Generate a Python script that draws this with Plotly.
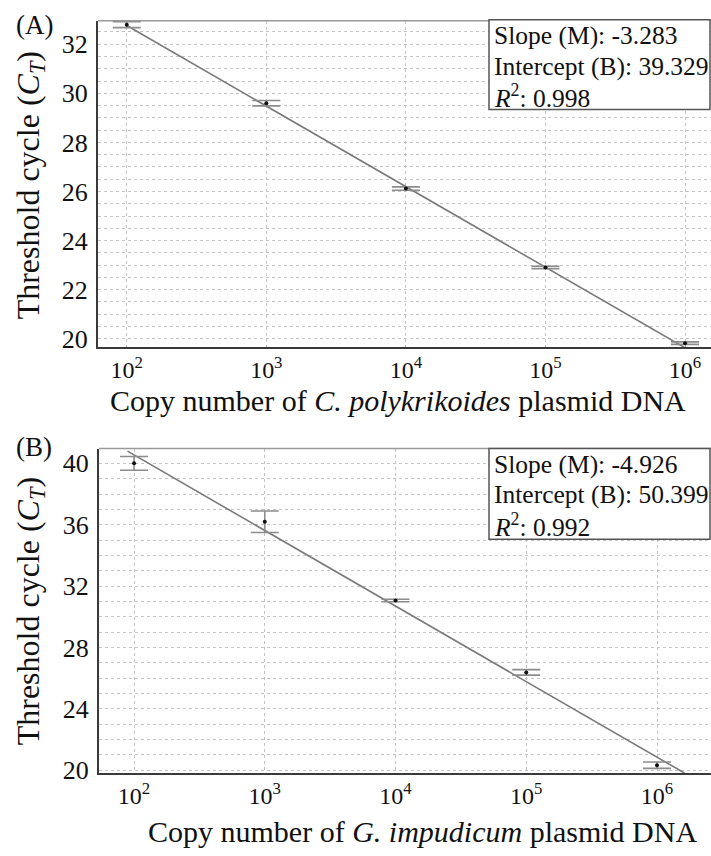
import math
import plotly.graph_objects as go

# ---------------- data ----------------
copies = [1e2, 1e3, 1e4, 1e5, 1e6]

ct_a = [32.80, 29.60, 26.12, 22.90, 19.82]
err_a = [0.12, 0.11, 0.07, 0.05, 0.05]

ct_b = [40.00, 36.19, 31.06, 26.37, 20.32]
err_b = [0.45, 0.70, 0.08, 0.18, 0.21]

slope_a, intercept_a, r2_a = -3.283, 39.329, 0.998
slope_b, intercept_b, r2_b = -4.926, 50.399, 0.992

fit_x_a = [1e2, 1e6]
fit_x_b = [10 ** 1.95, 10 ** 6.21]

x_tick_vals = [1e2, 1e3, 1e4, 1e5, 1e6]
x_tick_text = ["10<sup>2</sup>", "10<sup>3</sup>", "10<sup>4</sup>", "10<sup>5</sup>", "10<sup>6</sup>"]
y_ticks_a = [20, 22, 24, 26, 28, 30, 32]
y_ticks_b = [20, 24, 28, 32, 36, 40]

xtitle_a = "Copy number of <i>C. polykrikoides</i> plasmid DNA"
xtitle_b = "Copy number of <i>G. impudicum</i> plasmid DNA"
ytitle = "Threshold cycle (<i>C</i><sub><i>T</i></sub>)"

# ---------------- helpers ----------------
W, H = 711, 856
FONT = "Liberation Serif"


def px(x):
    return x / W


def py(y):
    return 1 - y / H


def fit_line(xs, m, b):
    return [m * math.log10(v) + b for v in xs]


fig = go.Figure()

for xa, ya, ct, err, fx, m, b in [
    ("x", "y", ct_a, err_a, fit_x_a, slope_a, intercept_a),
    ("x2", "y2", ct_b, err_b, fit_x_b, slope_b, intercept_b),
]:
    fig.add_trace(go.Scatter(
        x=fx, y=fit_line(fx, m, b), mode="lines",
        line=dict(color="#7a7a7a", width=1.6),
        xaxis=xa, yaxis=ya, showlegend=False, hoverinfo="skip"))
    fig.add_trace(go.Scatter(
        x=copies, y=ct, mode="markers",
        marker=dict(color="#111111", size=4),
        error_y=dict(type="data", array=err, visible=True,
                     color="#8c8c8c", thickness=1.6, width=14),
        xaxis=xa, yaxis=ya, showlegend=False))

grid = dict(showgrid=True, gridcolor="#c4c4c4", griddash="dot", gridwidth=1)
xcommon = dict(type="log", tickvals=x_tick_vals, ticktext=x_tick_text,
               tickfont=dict(family=FONT, size=24, color="#111"),
               showline=True, linecolor="#3a3a3a", linewidth=2,
               ticks="", zeroline=False, **grid)
ycommon = dict(tickfont=dict(family=FONT, size=26, color="#111"),
               showline=True, linecolor="#3a3a3a", linewidth=2,
               ticks="", ticklabelstandoff=3, zeroline=False, **grid)

fig.update_layout(
    width=W, height=H,
    margin=dict(l=0, r=0, t=0, b=0),
    paper_bgcolor="white", plot_bgcolor="white",
    font=dict(family=FONT),
    xaxis=dict(domain=[px(98), 1.0], range=[1.794, 6.186], anchor="y", **xcommon),
    yaxis=dict(domain=[py(352), py(21)], range=[19.66, 32.96], anchor="x",
               tickvals=y_ticks_a,
               minor=dict(dtick=0.5, tick0=0, showgrid=True, gridcolor="#c4c4c4",
                          griddash="dot", ticks=""),
               **ycommon),
    xaxis2=dict(domain=[px(99), 1.0], range=[1.732, 6.413], anchor="y2", **xcommon),
    yaxis2=dict(domain=[py(784), py(455)], range=[19.81, 40.96], anchor="x2",
                tickvals=y_ticks_b,
                minor=dict(dtick=1, tick0=0, showgrid=True, gridcolor="#c4c4c4",
                           griddash="dot", ticks=""),
                **ycommon),
)

shapes = []
# top borders of plot areas
shapes.append(dict(type="line", xref="paper", yref="paper",
                   x0=px(98), x1=1.0, y0=py(21), y1=py(21),
                   line=dict(color="#9a9a9a", width=1.5)))
shapes.append(dict(type="line", xref="paper", yref="paper",
                   x0=px(99), x1=1.0, y0=py(455), y1=py(455),
                   line=dict(color="#9a9a9a", width=1.5)))
# statistics boxes
shapes.append(dict(type="rect", xref="paper", yref="paper",
                   x0=px(489), x1=px(710), y0=py(111), y1=py(20),
                   line=dict(color="#555555", width=1.5), fillcolor="white",
                   layer="above"))
shapes.append(dict(type="rect", xref="paper", yref="paper",
                   x0=px(489), x1=px(710), y0=py(547), y1=py(455),
                   line=dict(color="#555555", width=1.5), fillcolor="white",
                   layer="above"))
fig.update_layout(shapes=shapes)

ann = []
stat_lines_a = [f"Slope (M): {slope_a:.3f}", f"Intercept (B): {intercept_a:.3f}",
                f"<i>R</i><sup>2</sup>: {r2_a:.3f}"]
stat_lines_b = [f"Slope (M): {slope_b:.3f}", f"Intercept (B): {intercept_b:.3f}",
                f"<i>R</i><sup>2</sup>: {r2_b:.3f}"]
for lines, ys in [(stat_lines_a, [36, 67, 98]), (stat_lines_b, [471, 502, 533])]:
    for t, yy in zip(lines, ys):
        ann.append(dict(text=t, xref="paper", yref="paper", x=px(492), y=py(yy),
                        xanchor="left", yanchor="middle", align="left", showarrow=False,
                        font=dict(family=FONT, size=25.5, color="#111")))
# panel labels
ann.append(dict(text="(A)", xref="paper", yref="paper", x=px(34), y=py(25),
                xanchor="center", yanchor="middle", showarrow=False,
                font=dict(family=FONT, size=27, color="#111")))
ann.append(dict(text="(B)", xref="paper", yref="paper", x=px(34), y=py(453),
                xanchor="center", yanchor="middle", showarrow=False,
                font=dict(family=FONT, size=27, color="#111")))
# axis titles
ann.append(dict(text=ytitle, xref="paper", yref="paper", x=px(30), y=py(188),
                xanchor="center", yanchor="middle", textangle=-90, showarrow=False,
                font=dict(family=FONT, size=32, color="#111")))
ann.append(dict(text=ytitle, xref="paper", yref="paper", x=px(30), y=py(620),
                xanchor="center", yanchor="middle", textangle=-90, showarrow=False,
                font=dict(family=FONT, size=32, color="#111")))
ann.append(dict(text=xtitle_a, xref="paper", yref="paper", x=px(398), y=py(406),
                xanchor="center", yanchor="middle", showarrow=False,
                font=dict(family=FONT, size=30, color="#111")))
ann.append(dict(text=xtitle_b, xref="paper", yref="paper", x=px(422), y=py(843),
                xanchor="center", yanchor="middle", showarrow=False,
                font=dict(family=FONT, size=30, color="#111")))
fig.update_layout(annotations=ann)

fig.write_html("out.html", config={"displayModeBar": False},
               post_script="document.body.style.margin='0';")
